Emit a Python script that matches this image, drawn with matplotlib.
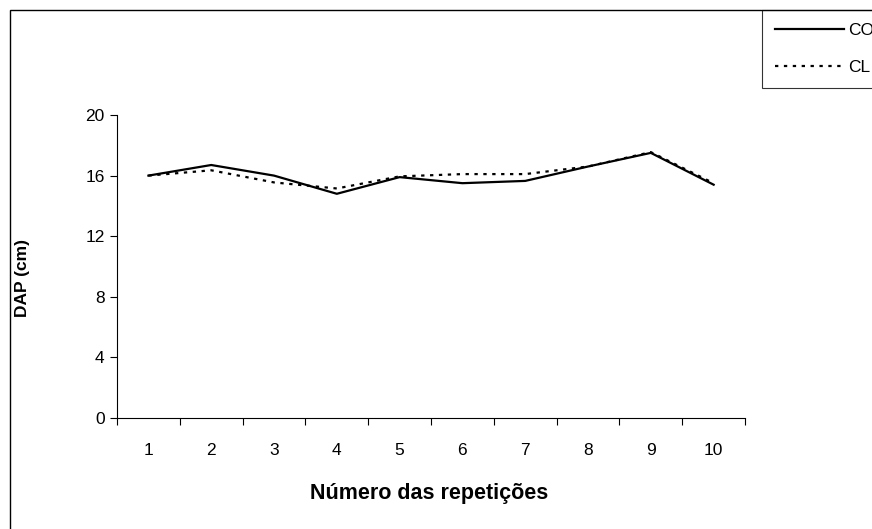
import matplotlib
matplotlib.use("Agg")
import matplotlib.pyplot as plt
from matplotlib.patches import Rectangle
from matplotlib.ticker import FixedLocator, NullFormatter

plt.rcParams['font.family'] = ['Liberation Sans', 'DejaVu Sans']

# Mean DBH per repetition for the two treatments
repeticoes = [1, 2, 3, 4, 5, 6, 7, 8, 9, 10]
dap_co = [16.0, 16.7, 16.0, 14.8, 15.9, 15.5, 15.65, 16.6, 17.5, 15.4]
dap_cl = [16.0, 16.35, 15.55, 15.15, 15.95, 16.1, 16.1, 16.6, 17.55, 15.5]
yticks = [0, 4, 8, 12, 16, 20]

fig = plt.figure(figsize=(8.72, 5.29), dpi=100)
ax = fig.add_axes([0.1342, 0.2098, 0.7202, 0.5728])

ax.plot(repeticoes, dap_co, color='black', linewidth=1.6, label='CO')
ax.plot(repeticoes, dap_cl, color='black', linewidth=1.6,
        linestyle=(0, (1.5, 2.5)), label='CL')

ax.set_xlim(0.5, 10.5)
ax.set_ylim(0, 20)
ax.set_yticks(yticks)
ax.set_xticks(repeticoes)
ax.xaxis.set_minor_locator(FixedLocator([i + 0.5 for i in range(0, 11)]))
ax.xaxis.set_minor_formatter(NullFormatter())
ax.tick_params(axis='x', which='major', length=0, pad=18, labelsize=12.5)
ax.tick_params(axis='x', which='minor', length=5, direction='out', width=0.8)
ax.tick_params(axis='y', length=5, direction='out', width=0.8, pad=4,
               labelsize=12.5)

for side in ['top', 'right']:
    ax.spines[side].set_visible(False)
for side in ['left', 'bottom']:
    ax.spines[side].set_linewidth(0.8)

# axis titles placed in figure coordinates
fig.text(23 / 872, 1 - 278 / 529, 'DAP (cm)', rotation=90, fontweight='bold',
         fontsize=12.5, ha='center', va='center')
fig.text(429 / 872, 1 - 493 / 529, 'Número das repetições',
         fontweight='bold', fontsize=15.5, ha='center', va='center')

leg = ax.legend(loc='upper left', bbox_to_anchor=(762 / 872, 1 - 10 / 529),
                bbox_transform=fig.transFigure, frameon=True, fancybox=False,
                edgecolor='black', fontsize=12.5, handlelength=3.95,
                handletextpad=0.25, labelspacing=1.25, borderaxespad=0,
                borderpad=0.75)
leg.get_frame().set_linewidth(0.8)

# outer chart-area border
fig.patches.append(Rectangle((10 / 872, -0.1), 1.2, 1.1 - 10 / 529,
                             transform=fig.transFigure, fill=False,
                             edgecolor='black', linewidth=1.0, zorder=0))

fig.savefig('out.png', dpi=100)
